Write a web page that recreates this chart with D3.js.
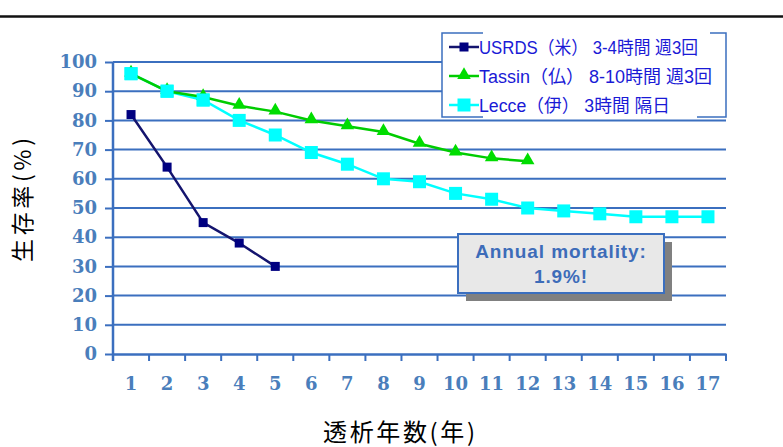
<!DOCTYPE html>
<html>
<head>
<meta charset="utf-8">
<script src="https://cdn.jsdelivr.net/npm/d3@7"></script>
<style>
  body { margin: 0; background: #fff; }
  svg { display: block; }
</style>
</head>
<body>
<svg id="chart" width="783" height="447"></svg>
<script>
const years = [1, 2, 3, 4, 5, 6, 7, 8, 9, 10, 11, 12, 13, 14, 15, 16, 17];
const yTicks = [0, 10, 20, 30, 40, 50, 60, 70, 80, 90, 100];
const usrds = [82, 64, 45, 38, 30];
const tassin = [96, 90, 88, 85, 83, 80, 78, 76, 72, 69, 67, 66];
const lecce = [96, 90, 87, 80, 75, 69, 65, 60, 59, 55, 53, 50, 49, 48, 47, 47, 47];
const legendLabels = ["USRDS（米） 3-4時間 週3回", "Tassin（仏）  8-10時間 週3回", "Lecce（伊）  3時間 隔日"];

const svg = d3.select("#chart");
const blue = "#3b6fbf";
const plotL = 113, plotR = 726, plotT = 62, plotB = 354;

const x = d3.scaleBand().domain(years).range([plotL, plotR]);
const y = d3.scaleLinear().domain([0, 100]).range([plotB, plotT]);

// top rule
svg.append("line")
  .attr("x1", 0).attr("x2", 783).attr("y1", 16.5).attr("y2", 16.5)
  .attr("stroke", "#111").attr("stroke-width", 2.5);

// gridlines
svg.append("g").selectAll("line")
  .data(yTicks.slice(1))
  .enter().append("line")
  .attr("x1", plotL).attr("x2", plotR)
  .attr("y1", d => y(d)).attr("y2", d => y(d))
  .attr("stroke", blue).attr("stroke-width", 2);

// y axis
const yAxis = svg.append("g")
  .attr("transform", `translate(${plotL},0)`)
  .call(d3.axisLeft(y).tickValues(yTicks).tickSize(8).tickPadding(8).tickSizeOuter(0));
yAxis.select(".domain").remove();
yAxis.selectAll(".tick line").attr("stroke", blue).attr("stroke-width", 2);
yAxis.selectAll(".tick text")
  .attr("fill", "#4a7ebb")
  .style("font", "bold 18px 'DejaVu Serif', serif");
svg.append("line")
  .attr("x1", plotL).attr("x2", plotL).attr("y1", plotT).attr("y2", plotB + 7)
  .attr("stroke", blue).attr("stroke-width", 2.5);

// x axis
const xAxis = svg.append("g")
  .attr("transform", `translate(0,${plotB})`)
  .call(d3.axisBottom(x).tickSize(0).tickPadding(23));
xAxis.select(".domain").attr("stroke", blue).attr("stroke-width", 2.5);
xAxis.selectAll(".tick text")
  .attr("fill", "#4a7ebb")
  .style("font", "bold 18px 'DejaVu Serif', serif");
svg.append("g").selectAll("line")
  .data(years.slice(1).concat([18]))
  .enter().append("line")
  .attr("x1", (d, i) => plotL + (i + 1) * x.step()).attr("x2", (d, i) => plotL + (i + 1) * x.step())
  .attr("y1", plotB).attr("y2", plotB + 7)
  .attr("stroke", blue).attr("stroke-width", 2);

const cx = i => x(years[i]) + x.bandwidth() / 2;
const line = d3.line().x((d, i) => cx(i)).y(d => y(d));

// Lecce
svg.append("path").datum(lecce).attr("d", line)
  .attr("fill", "none").attr("stroke", "#00ffff").attr("stroke-width", 2.5);
svg.append("g").selectAll("rect").data(lecce).enter().append("rect")
  .attr("x", (d, i) => cx(i) - 6.5).attr("y", d => y(d) - 6.5)
  .attr("width", 13).attr("height", 13).attr("fill", "#00ffff");

// Tassin
svg.append("path").datum(tassin).attr("d", line)
  .attr("fill", "none").attr("stroke", "#00cc00").attr("stroke-width", 2.5);
svg.append("g").selectAll("path").data(tassin).enter().append("path")
  .attr("d", d3.symbol().type(d3.symbolTriangle).size(80))
  .attr("transform", (d, i) => `translate(${cx(i)},${y(d) - 1})`)
  .attr("fill", "#00dd00");

// redraw first Lecce points over triangles
svg.append("g").selectAll("rect").data(lecce.slice(0, 3)).enter().append("rect")
  .attr("x", (d, i) => cx(i) - 6.5).attr("y", d => y(d) - 6.5)
  .attr("width", 13).attr("height", 13).attr("fill", "#00ffff");

// USRDS
svg.append("path").datum(usrds).attr("d", line)
  .attr("fill", "none").attr("stroke", "#14146e").attr("stroke-width", 2.5);
svg.append("g").selectAll("rect").data(usrds).enter().append("rect")
  .attr("x", (d, i) => cx(i) - 4.5).attr("y", d => y(d) - 4.5)
  .attr("width", 9).attr("height", 9).attr("fill", "#000080");

// legend
const lg = svg.append("g");
lg.append("rect")
  .attr("x", 442).attr("y", 33).attr("width", 284).attr("height", 84)
  .attr("fill", "#fff");
lg.append("path")
  .attr("d", "M483,33 H442 V117 H483 M697,117 H726 V33 H710")
  .attr("fill", "none").attr("stroke", blue).attr("stroke-width", 1.5);
const legendColors = ["#000080", "#00dd00", "#00ffff"];
const lineColors = ["#14146e", "#00cc00", "#00ffff"];
const legendWidths = [219, 233, 191];
legendLabels.forEach((t, i) => {
  const ly = 47 + i * 29;
  lg.append("line").attr("x1", 449).attr("x2", 479).attr("y1", ly).attr("y2", ly)
    .attr("stroke", lineColors[i]).attr("stroke-width", 2.5);
  if (i === 1) {
    lg.append("path").attr("d", d3.symbol().type(d3.symbolTriangle).size(80))
      .attr("transform", `translate(464,${ly - 1})`).attr("fill", legendColors[i]);
  } else {
    const s = i === 0 ? 9 : 13;
    lg.append("rect").attr("x", 464 - s / 2).attr("y", ly - s / 2)
      .attr("width", s).attr("height", s).attr("fill", legendColors[i]);
  }
  lg.append("text").attr("x", 479).attr("y", ly + 6.5)
    .attr("fill", "#1a1ad6")
    .attr("textLength", legendWidths[i]).attr("lengthAdjust", "spacingAndGlyphs")
    .style("font", "18px 'Liberation Sans', 'Noto Sans CJK JP', sans-serif")
    .text(t);
});

// annotation box
svg.append("rect")
  .attr("x", 466).attr("y", 242).attr("width", 206).attr("height", 59)
  .attr("fill", "#808080");
svg.append("rect")
  .attr("x", 458).attr("y", 234).attr("width", 206).attr("height", 59)
  .attr("fill", "#e8e8e8").attr("stroke", blue).attr("stroke-width", 2);
svg.append("text").attr("x", 561).attr("y", 258).attr("text-anchor", "middle")
  .attr("fill", "#3d6cb9")
  .style("font", "bold 19px 'Liberation Sans', sans-serif")
  .style("letter-spacing", "0.9px")
  .text("Annual mortality:");
svg.append("text").attr("x", 561).attr("y", 283).attr("text-anchor", "middle")
  .attr("fill", "#3d6cb9")
  .style("font", "bold 19px 'Liberation Sans', sans-serif")
  .style("letter-spacing", "0.9px")
  .text("1.9%!");

// axis titles
svg.append("text")
  .attr("transform", "translate(31,200) rotate(-90)")
  .attr("text-anchor", "middle")
  .attr("textLength", 124).attr("lengthAdjust", "spacing")
  .style("font", "23px 'Noto Sans CJK JP', sans-serif")
  .text("生存率(%)");
svg.append("text")
  .attr("x", 399).attr("y", 441).attr("text-anchor", "middle")
  .attr("textLength", 152).attr("lengthAdjust", "spacing")
  .style("font", "24px 'Noto Sans CJK JP', sans-serif")
  .text("透析年数(年)");
</script>
</body>
</html>
